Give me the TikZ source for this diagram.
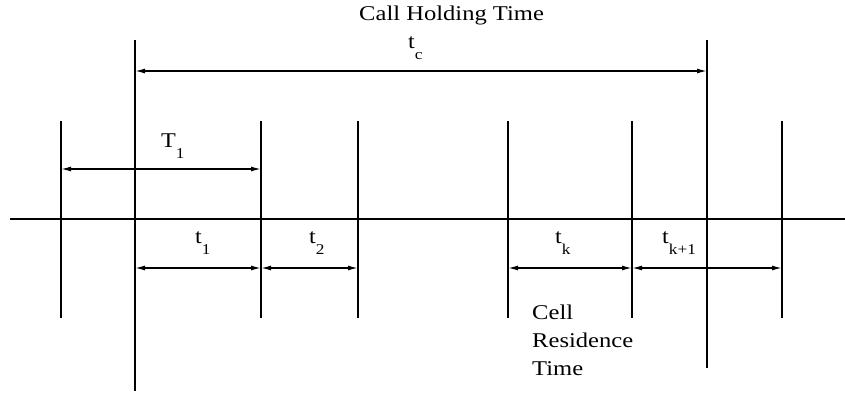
\documentclass[tikz,border=0pt]{standalone}
\usepackage{fontspec}
\setmainfont{Liberation Serif}
\usetikzlibrary{arrows.meta}
\newcommand{\sbt}[2]{\scalebox{1.15}[1]{#1\raisebox{-11pt}{\fontsize{15}{15}\selectfont #2}}}
\newcommand{\wide}[1]{\scalebox{1.17}[1]{#1}}
\begin{document}
\begin{tikzpicture}[x=1pt,y=-1pt,
  vline/.style={line width=1.8pt},
  axis/.style={line width=2.6pt},
  dim/.style={line width=1.4pt,{Latex[length=10pt,width=5pt]}-{Latex[length=10pt,width=5pt]}},
  lbl/.style={font=\fontsize{21}{21}\selectfont,inner sep=0pt}]
\useasboundingbox (0,0) rectangle (845,397);
\foreach \n/\x in {a/61,c/261,d/358,e/508,f/632,h/782}{
  \coordinate (\n t) at (\x,121);
  \coordinate (\n b) at (\x,318);
}
\coordinate (bt) at (135,40); \coordinate (bb) at (135,391);
\coordinate (gt) at (707,40); \coordinate (gb) at (707,368);
\foreach \n in {a,b,c,d,e,f,g,h} \draw[vline] (\n t) -- (\n b);
\coordinate (axL) at (10,219); \coordinate (axR) at (845,219);
\draw[axis] (axL) -- (axR);
% dimension arrows
\draw[dim] (bt |- 0,71) -- (gt |- 0,71);
\draw[dim] (at |- 0,169) -- (ct |- 0,169);
\draw[dim] (bt |- 0,268) -- (ct |- 0,268);
\draw[dim] (ct |- 0,268) -- (dt |- 0,268);
\draw[dim] (et |- 0,268) -- (ft |- 0,268);
\draw[dim] (ft |- 0,268) -- (ht |- 0,268);
% labels
\node[lbl,anchor=base west] (title) at (359,20) {\wide{Call Holding Time}};
\node[lbl,anchor=base west] (tc) at (408,48) {\sbt{t}{c}};
\node[lbl,anchor=base west] (T1) at (161,147) {\sbt{T}{1}};
\node[lbl,anchor=base west] (t1) at (195,243) {\sbt{t}{1}};
\node[lbl,anchor=base west] (t2) at (309,243) {\sbt{t}{2}};
\node[lbl,anchor=base west] (tk) at (555,243) {\sbt{t}{k}};
\node[lbl,anchor=base west] (tk1) at (662,243) {\sbt{t}{k+1}};
\node[lbl,anchor=north west,align=left,font=\fontsize{21}{28}\selectfont] (crt) at (532,305) {\wide{Cell}\\\wide{Residence}\\\wide{Time}};
\end{tikzpicture}
\end{document}
